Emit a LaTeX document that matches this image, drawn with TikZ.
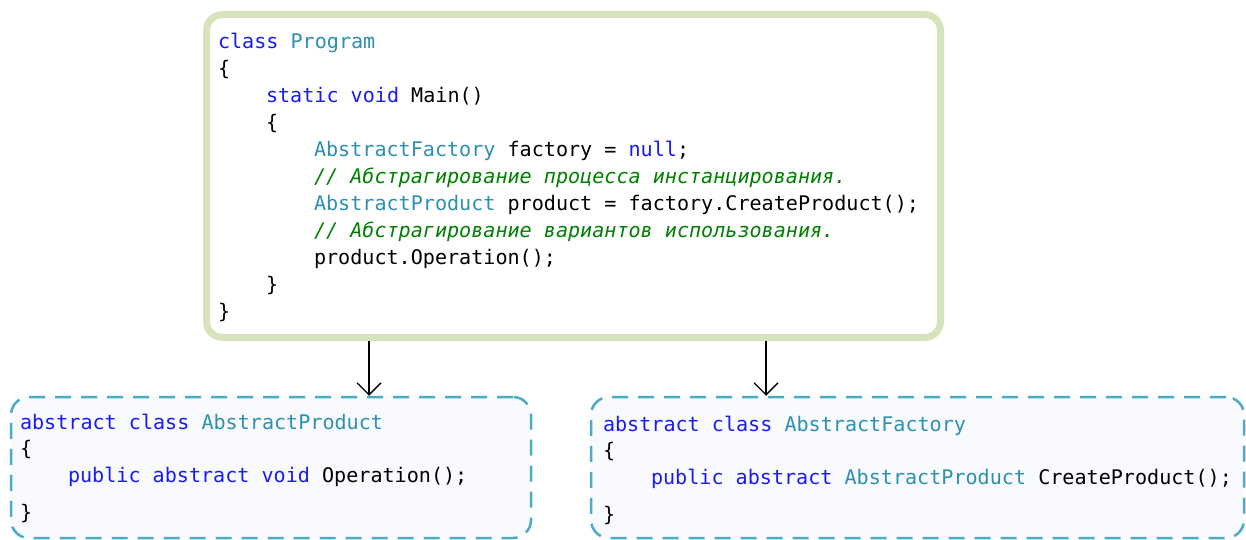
\documentclass[tikz,border=0pt]{standalone}
\usepackage{fontspec}
\setmonofont{DejaVu Sans Mono}
\usetikzlibrary{arrows.meta}

% syntax colours
\definecolor{kwblue}{HTML}{1A1AF5}
\definecolor{typeteal}{HTML}{2B91AF}
\definecolor{cmtgreen}{HTML}{008000}
% box colours
\definecolor{boxgreen}{HTML}{D6E3BC}
\definecolor{dashblue}{HTML}{4BACC6}
\definecolor{boxfill}{HTML}{F8FAFD}

\newcommand\kwd[1]{\textcolor{kwblue}{#1}}
\newcommand\typ[1]{\textcolor{typeteal}{#1}}
\newcommand\cmt[1]{\textcolor{cmtgreen}{\itshape #1}}

\begin{document}
\begin{tikzpicture}[x=1pt,y=-1pt,
  code/.style={anchor=base west, inner sep=0pt, outer sep=0pt,
    font=\ttfamily\fontsize{20.1}{24}\selectfont},
  progbox/.style={draw=boxgreen, line width=7pt, rounded corners=16pt, fill=white},
  classbox/.style={draw=dashblue, line width=2.5pt, dash pattern=on 16pt off 10pt,
    rounded corners=18pt, fill=boxfill},
  link/.style={draw=black, line width=1.4pt,
    -{Straight Barb[length=12pt,width=24pt]}}]
\useasboundingbox (0,0) rectangle (1246,540);

% frames
\node[progbox, minimum width=734pt, minimum height=323pt] (prog) at (573.5,176) {};
\node[classbox, minimum width=520pt, minimum height=141pt] (prod) at (271,467.5) {};
\node[classbox, minimum width=653pt, minimum height=141pt] (fact) at (917.5,467.5) {};

% client code
\node[code] (p1)  at (218,49)    {\kwd{class} \typ{Program}};
\node[code] (p2)  at (218,75.9)  {\{};
\node[code] (p3)  at (266,102.8) {\kwd{static} \kwd{void} Main()};
\node[code] (p4)  at (266,129.7) {\{};
\node[code] (p5)  at (314,156.6) {\typ{AbstractFactory} factory = \kwd{null};};
\node[code] (p6)  at (314,183.5) {\cmt{// Абстрагирование процесса инстанцирования.}};
\node[code] (p7)  at (314,210.4) {\typ{AbstractProduct} product = factory.CreateProduct();};
\node[code] (p8)  at (314,237.3) {\cmt{// Абстрагирование вариантов использования.}};
\node[code] (p9)  at (314,264.2) {product.Operation();};
\node[code] (p10) at (266,291.1) {\}};
\node[code] (p11) at (218,318)   {\}};

% abstract product
\node[code] (a1) at (20,429) {\kwd{abstract} \kwd{class} \typ{AbstractProduct}};
\node[code] (a2) at (20,455) {\{};
\node[code] (a3) at (68,482) {\kwd{public} \kwd{abstract} \kwd{void} Operation();};
\node[code] (a4) at (20,519) {\}};

% abstract factory
\node[code] (f1) at (603,431) {\kwd{abstract} \kwd{class} \typ{AbstractFactory}};
\node[code] (f2) at (603,457) {\{};
\node[code] (f3) at (651,484) {\kwd{public} \kwd{abstract} \typ{AbstractProduct} CreateProduct();};
\node[code] (f4) at (603,521) {\}};

% dependencies
\coordinate (xprod) at (369,0);
\coordinate (xfact) at (766,0);
\draw[link] (xprod |- prog.south) -- (xprod |- prod.north);
\draw[link] (xfact |- prog.south) -- (xfact |- fact.north);
\end{tikzpicture}
\end{document}
